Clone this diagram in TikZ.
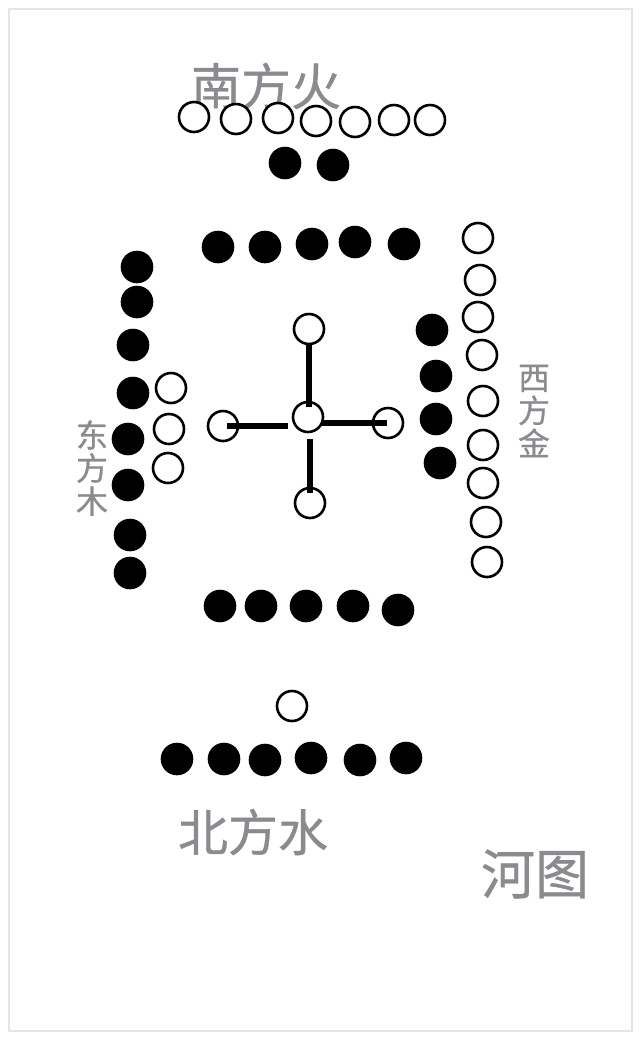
\documentclass[tikz,border=0pt]{standalone}
\usepackage{fontspec}
\setmainfont{Noto Sans CJK SC}[FakeBold=0.7]
\usetikzlibrary{shapes,calc}
\definecolor{hetu_gray}{RGB}{138,138,143}
\tikzset{
  x=0.5pt, y=-0.5pt,
  dot/.style = {circle, inner sep=0pt, minimum size=15pt, line width=1.3pt, draw=black},
  dot_w/.style = {dot, fill=white},
  dot_b/.style = {dot, fill=black},
  fang_h/.style = {text=hetu_gray, inner sep=0pt, font=\fontsize{25}{25}\selectfont},
  fang_v/.style = {text=hetu_gray, inner sep=0pt, align=center, font=\fontsize{16}{16.5}\selectfont},
  bar_line/.style = {draw=black, line width=2.6pt}
}
\begin{document}
\begin{tikzpicture}
	\useasboundingbox (0,0) rectangle (640,1040);
	\draw[black!10, line width=0.6pt] (9,9) rectangle (632,1031);
	% south: 7 white, 2 black
	\node [fang_h] (south) at (266,86) {南方火};
	\node [dot_w] (s1) at (194,117) {}; \node [dot_w] (s2) at (236,119) {};
	\node [dot_w] (s3) at (278,118) {}; \node [dot_w] (s4) at (316,121) {};
	\node [dot_w] (s5) at (355,122) {}; \node [dot_w] (s6) at (394,120) {};
	\node [dot_w] (s7) at (430,120) {};
	\node [dot_b] (s8) at (285,163) {}; \node [dot_b] (s9) at (333,165) {};
	% inner ring of ten
	\node [dot_b] (t1) at (218,247) {}; \node [dot_b] (t2) at (265,247) {};
	\node [dot_b] (t3) at (312,244) {}; \node [dot_b] (t4) at (355,242) {};
	\node [dot_b] (t5) at (404,244) {};
	\node [dot_b] (u1) at (220,606) {}; \node [dot_b] (u2) at (261,606) {};
	\node [dot_b] (u3) at (306,606) {}; \node [dot_b] (u4) at (353,606) {};
	\node [dot_b] (u5) at (398,610) {};
	% east: 8 black, 3 white
	\node [fang_v] (east) at (92,468) {东\\方\\木};
	\node [dot_b] (e1) at (137,267) {}; \node [dot_b] (e2) at (137,302) {};
	\node [dot_b] (e3) at (133,345) {}; \node [dot_b] (e4) at (133,393) {};
	\node [dot_b] (e5) at (128,439) {}; \node [dot_b] (e6) at (128,485) {};
	\node [dot_b] (e7) at (130,535) {}; \node [dot_b] (e8) at (130,573) {};
	\node [dot_w] (e9) at (171,388) {}; \node [dot_w] (e10) at (169,429) {};
	\node [dot_w] (e11) at (168,468) {};
	% west: 9 white, 4 black
	\node [fang_v] (west) at (534,411) {西\\方\\金};
	\node [dot_w] (w1) at (478,238) {}; \node [dot_w] (w2) at (480,280) {};
	\node [dot_w] (w3) at (478,317) {}; \node [dot_w] (w4) at (482,355) {};
	\node [dot_w] (w5) at (483,401) {}; \node [dot_w] (w6) at (483,445) {};
	\node [dot_w] (w7) at (483,483) {}; \node [dot_w] (w8) at (486,522) {};
	\node [dot_w] (w9) at (487,562) {};
	\node [dot_b] (w10) at (432,330) {}; \node [dot_b] (w11) at (436,376) {};
	\node [dot_b] (w12) at (436,419) {}; \node [dot_b] (w13) at (440,463) {};
	% north: 1 white, 6 black
	\node [dot_w] (n1) at (292,706) {};
	\node [dot_b] (n2) at (177,759) {}; \node [dot_b] (n3) at (224,759) {};
	\node [dot_b] (n4) at (265,760) {}; \node [dot_b] (n5) at (311,758) {};
	\node [dot_b] (n6) at (360,760) {}; \node [dot_b] (n7) at (406,758) {};
	\node [fang_h] (north) at (253,832) {北方水};
	% centre: five white
	\node [dot_w] (c0) at (308,417) {};
	\node [dot_w] (c1) at (309,329) {}; \node [dot_w] (c2) at (388,423) {};
	\node [dot_w] (c3) at (310,503) {}; \node [dot_w] (c4) at (223,426) {};
	\draw [bar_line, shorten <=7pt, shorten >=5pt] (c1.center) -- (c1.center |- c0.center);
	\draw [bar_line, shorten <=11pt, shorten >=5pt] (c3.center |- c0.center) -- (c3.center);
	\draw [bar_line, shorten <=2pt, shorten >=10pt] (c4.center) -- (c4.center -| c0.center);
	\draw [bar_line, shorten <=7pt, shorten >=0.5pt] (c2.center -| c0.center) -- (c2.center);
	\node [fang_h, font=\fontsize{27}{27}\selectfont] (title) at (535,874) {河图};
\end{tikzpicture}
\end{document}
